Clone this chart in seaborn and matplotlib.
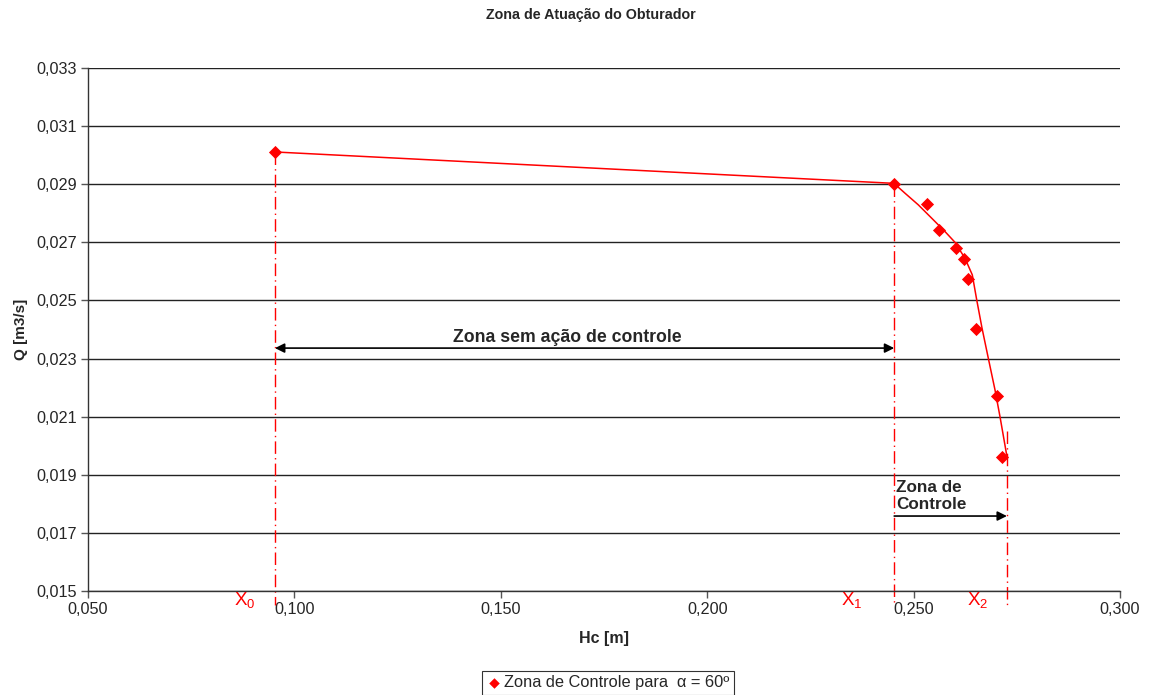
import matplotlib
matplotlib.use("Agg")
import matplotlib.pyplot as plt
import seaborn as sns
import pandas as pd
from matplotlib.ticker import FuncFormatter

# Measured points
hc_pts = [0.0953, 0.2453, 0.2533, 0.2562, 0.2602, 0.2623, 0.2632, 0.2651, 0.2702, 0.2713]
q_pts = [0.03011, 0.02901, 0.02832, 0.02742, 0.02680, 0.02643, 0.02574, 0.02402, 0.02171, 0.01962]

# Curve drawn through the points
hc_line = [0.0953, 0.24525, 0.24792, 0.25114, 0.25439, 0.25761, 0.26003, 0.26245, 0.26422,
           0.26529, 0.26657, 0.26810, 0.26972, 0.27093, 0.27255]
q_line = [0.03011, 0.02903, 0.02869, 0.02829, 0.02783, 0.02737, 0.02700, 0.02645, 0.02588,
          0.02502, 0.02405, 0.02301, 0.02192, 0.02100, 0.01968]

x0, x1, x2 = 0.0953, 0.2453, 0.2726
x_ticks = [0.050, 0.100, 0.150, 0.200, 0.250, 0.300]
y_ticks = [0.015, 0.017, 0.019, 0.021, 0.023, 0.025, 0.027, 0.029, 0.031, 0.033]

sns.set_style("white")
plt.rcParams['font.family'] = ['Liberation Sans', 'DejaVu Sans']
plt.rcParams['mathtext.default'] = 'regular'

fig = plt.figure(figsize=(11.49, 6.95), dpi=100)
ax = fig.add_axes([88/1149, 1-591/695, (1120-88)/1149, (591-68)/695])

df_pts = pd.DataFrame({"Hc": hc_pts, "Q": q_pts})
df_line = pd.DataFrame({"Hc": hc_line, "Q": q_line})

sns.lineplot(data=df_line, x="Hc", y="Q", ax=ax, color="red", lw=1.1, sort=False,
             estimator=None, zorder=3)
sns.scatterplot(data=df_pts, x="Hc", y="Q", ax=ax, color="red", marker="D", s=45,
                edgecolor="red", linewidth=0, zorder=4, label="Zona de Controle para  α = 60º")

ax.set_xlim(0.050, 0.300)
ax.set_ylim(0.015, 0.033)
ax.set_xticks(x_ticks)
ax.set_yticks(y_ticks)
fmt = FuncFormatter(lambda v, p: f"{v:.3f}".replace(".", ","))
ax.xaxis.set_major_formatter(fmt)
ax.yaxis.set_major_formatter(fmt)
ax.tick_params(axis='both', direction='out', length=5, width=1, color='#555555',
               labelsize=11.7, pad=3, bottom=True, left=True)
ax.yaxis.grid(True, color='#222222', lw=1)
ax.set_axisbelow(True)
for s in ['top', 'right']:
    ax.spines[s].set_visible(False)
for s in ['left', 'bottom']:
    ax.spines[s].set_color('#333333')
    ax.spines[s].set_linewidth(1)

ax.set_xlabel("Hc [m]", fontsize=11.5, fontweight='bold', labelpad=10)
ax.set_ylabel("Q [m3/s]", fontsize=11, fontweight='bold', labelpad=6)
fig.text(591/1149, 1-15/695, "Zona de Atuação do Obturador", ha='center', va='center',
         fontsize=10.3, fontweight='bold')

# Vertical dash-dot lines
ymin_ext = 0.015 - (14/523)*0.018
ax.plot([x0, x0], [q_pts[0], ymin_ext], color='red', lw=1, ls=(0, (9, 3, 1, 3)), clip_on=False, zorder=2)
ax.plot([x1, x1], [q_pts[1], ymin_ext], color='red', lw=1, ls=(0, (9, 3, 1, 3)), clip_on=False, zorder=2)
ax.plot([x2, x2], [0.0205, ymin_ext], color='red', lw=1, ls=(0, (9, 3, 1, 3)), clip_on=False, zorder=2)

# Arrows
ax.annotate("", xy=(x0, 0.02336), xytext=(x1, 0.02336),
            arrowprops=dict(arrowstyle='<|-|>', color='black', lw=1.2, mutation_scale=14,
                            shrinkA=0, shrinkB=0))
ax.text(0.1660, 0.02372, "Zona sem ação de controle", ha='center', va='center',
        fontsize=12.7, fontweight='bold')
ax.annotate("", xy=(x2, 0.01758), xytext=(x1, 0.01758),
            arrowprops=dict(arrowstyle='-|>', color='black', lw=1.2, mutation_scale=14,
                            shrinkA=0, shrinkB=0))
ax.text(x1 + 0.0005, 0.01828, "Zona de\nControle", ha='left', va='center',
        fontsize=12.3, fontweight='bold', linespacing=1.15)

# X labels
lab_y = 0.015 - (9/523)*0.018
for xx, t in [(0.0880, r"X$_0$"), (0.2350, r"X$_1$"), (0.2655, r"X$_2$")]:
    ax.text(xx, lab_y, t, color='red', fontsize=13.5, ha='center', va='center')

leg = ax.legend(loc='center', bbox_to_anchor=(608/1149, 1-683/695), bbox_transform=fig.transFigure,
                frameon=True, fontsize=11.8, handletextpad=0.1, borderpad=0.25,
                handlelength=1.0, markerscale=0.8, fancybox=False, edgecolor='black',
                borderaxespad=0)
leg.get_frame().set_linewidth(0.8)

fig.savefig("out.png", dpi=100, facecolor='white')
